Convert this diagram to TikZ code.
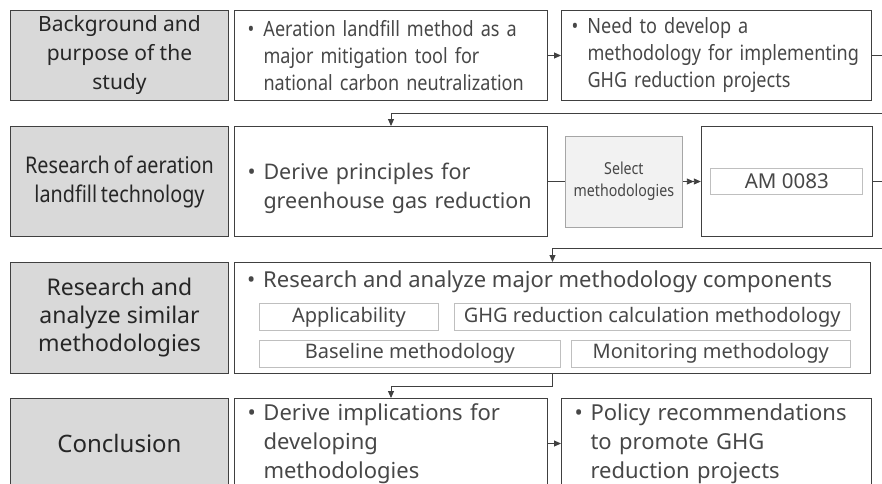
\documentclass[tikz,border=0pt]{standalone}
\usepackage{fontspec}
\setmainfont{Noto Sans}
\newfontfamily\narrowfont[FakeStretch=0.86,WordSpace=0.75]{Noto Sans}
\usetikzlibrary{positioning,arrows.meta,calc}

\definecolor{headgray}{HTML}{D9D9D9}
\definecolor{linegray}{HTML}{404040}
\definecolor{txtgray}{HTML}{474747}
\definecolor{selgray}{HTML}{F2F2F2}
\definecolor{subgray}{HTML}{BFBFBF}

% bullet and hanging indent for the list boxes
\newcommand{\bul}{\makebox[16pt][l]{\textbullet}}
\newcommand{\ind}{\hspace*{16pt}}

\begin{document}
\begin{tikzpicture}[x=1pt,y=-1pt,
  head/.style={draw=linegray,line width=1pt,fill=headgray,align=center,text=black!85,minimum width=218pt,inner sep=0pt,font=\fontsize{21}{29}\selectfont},
  body/.style={draw=linegray,line width=1pt,align=left,inner xsep=13pt,inner ysep=0pt,text=txtgray,font=\fontsize{22}{29}\selectfont},
  narrow/.style={font=\fontsize{21}{27}\selectfont\narrowfont},
  part/.style={draw=subgray,line width=0.8pt,inner sep=0pt,minimum height=27pt,text=txtgray,font=\fontsize{20}{22}\selectfont},
  link/.style={draw=linegray,line width=0.9pt,-{Triangle[length=7pt,width=6pt]}},
  dlink/.style={draw=linegray,line width=0.9pt,-{Triangle[length=7pt,width=6pt]Triangle[length=7pt,width=6pt]}}]
\useasboundingbox (0,0) rectangle (882,483);
\clip (0,0) rectangle (882,483);

% row 1
\node[head,minimum height=90pt,anchor=north west] (bg) at (10,10) {Background and\\purpose of the\\study};
\node[body,narrow,text width=287pt,minimum height=90pt,right=5pt of bg] (aer) {\bul Aeration landfill method as a\\\ind major mitigation tool for\\\ind national carbon neutralization};
\node[body,narrow,inner xsep=10pt,text width=290pt,minimum height=90pt,right=13pt of aer] (need) {\bul Need to develop a\\\ind methodology for implementing\\\ind GHG reduction projects};

% row 2
\node[head,minimum height=110pt,below=25pt of bg,font=\fontsize{23}{29}\selectfont\narrowfont] (tech) {Research of aeration\\landfill technology};
\node[body,text width=287pt,minimum height=110pt,right=5pt of tech,font=\fontsize{21.5}{29}\selectfont] (derive) {\rule{0pt}{31pt}\bul Derive principles for\\\ind greenhouse gas reduction};
\node[draw=black!35,line width=0.8pt,fill=selgray,minimum width=117pt,minimum height=91pt,inner sep=0pt,align=center,text=txtgray,font=\fontsize{16.5}{22}\selectfont\narrowfont,right=17pt of derive] (select) {Select\\methodologies};
\node[draw=linegray,line width=1pt,minimum width=171pt,minimum height=110pt,right=18pt of select] (amframe) {};
\node[part,minimum width=152pt,minimum height=26pt,font=\fontsize{20.5}{22}\selectfont] (am) at (amframe.center) {AM 0083};

% row 3
\node[head,minimum height=111pt,below=25pt of tech,font=\fontsize{23}{28}\selectfont] (sim) {Research and\\analyze similar\\methodologies};
\node[draw=linegray,line width=1pt,minimum width=636pt,minimum height=111pt,right=5pt of sim] (analyze) {};
\node[anchor=west,inner sep=0pt,text=txtgray,font=\fontsize{22}{24}\selectfont] (comp) at ($(analyze.north west)+(13,20)$) {\bul Research and analyze major methodology components};
\node[part,minimum width=179pt,anchor=north west] (appl) at ($(analyze.north west)+(25,41)$) {Applicability};
\node[part,minimum width=396pt,right=15pt of appl] (calc) {GHG reduction calculation methodology};
\node[part,minimum width=301pt,below=9pt of appl.south west,anchor=north west] (base) {Baseline methodology};
\node[part,minimum width=279pt,right=10pt of base] (monit) {Monitoring methodology};

% row 4
\node[head,minimum height=90pt,below=24pt of sim,font=\fontsize{24}{29}\selectfont] (conc) {Conclusion};
\node[body,text width=287pt,minimum height=90pt,right=5pt of conc] (implic) {\bul Derive implications for\\\ind developing\\\ind methodologies};
\node[body,text width=284pt,minimum height=90pt,right=13pt of implic] (policy) {\bul Policy recommendations\\\ind to promote GHG\\\ind reduction projects};

% connectors
\draw[link] (aer) -- (need);
\draw[link] (need.east) -| ++(20,58) -| (derive.north);
\draw[draw=linegray,line width=0.9pt] (derive) -- (select);
\draw[dlink] (select) -- (amframe);
\draw[link] (amframe.east) -| ++(20,67) -| (analyze.north);
\draw[link] (analyze.south) -- ++(0,12) -| (implic.north);
\draw[link] (implic) -- (policy);
\end{tikzpicture}
\end{document}
